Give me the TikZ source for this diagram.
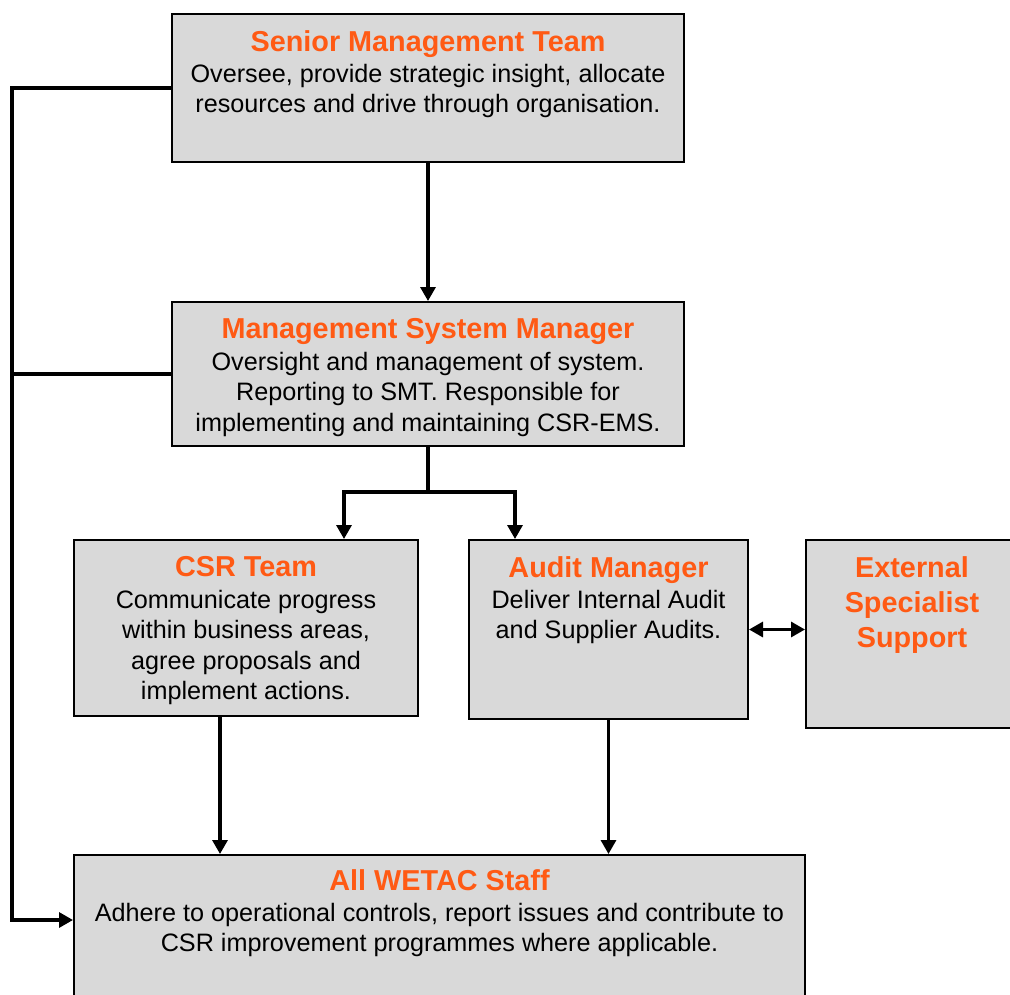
\documentclass[tikz,border=0pt]{standalone}
\usepackage{fontspec}
\setmainfont{Liberation Sans}
\usetikzlibrary{arrows.meta,positioning}
\definecolor{boxgray}{RGB}{217,217,217}
\definecolor{headorange}{RGB}{255,90,20}

\begin{document}
\begin{tikzpicture}[x=1pt, y=-1pt,
	box/.style={shape=rectangle, draw, line width=2pt, fill=boxgray, inner sep=0pt},
	head/.style={anchor=north, align=center, inner sep=0pt, text=headorange, font=\fontsize{28.8}{35}\selectfont\bfseries},
	body/.style={anchor=north, align=center, inner sep=0pt, font=\fontsize{25.2}{30.5}\selectfont},
	wire/.style={line width=3.2pt},
	arr/.style={wire, -{Triangle[length=14pt, width=15pt]}}]
	\useasboundingbox (0,0) rectangle (1010,994);
	% Boxes:
	\node[box, minimum width=512pt, minimum height=148pt] (smt) at (428, 88){};
	\node[box, minimum width=512pt, minimum height=144pt] (msm) at (428, 374){};
	\node[box, minimum width=344pt, minimum height=176pt] (csr) at (246, 628){};
	\node[box, minimum width=279pt, minimum height=179pt] (audit) at (608.5, 629.5){};
	\node[box, minimum width=212pt, minimum height=188pt] (ext) at (912, 634){};
	\node[box, minimum width=731pt, minimum height=155pt] (staff) at (439.5, 932.5){};
	% Texts:
	\node[head, below=17pt of smt.north] (smt-head){Senior Management Team};
	\node[body, below=51pt of smt.north] (smt-body){Oversee, provide strategic insight, allocate\\resources and drive through organisation.};
	\node[head, below=17pt of msm.north] (msm-head){Management System Manager};
	\node[body, below=51pt of msm.north] (msm-body){Oversight and management of system.\\Reporting to SMT. Responsible for\\implementing and maintaining CSR-EMS.};
	\node[head, below=17pt of csr.north] (csr-head){CSR Team};
	\node[body, below=51pt of csr.north] (csr-body){Communicate progress\\within business areas,\\agree proposals and\\implement actions.};
	\node[head, below=17pt of audit.north] (audit-head){Audit Manager};
	\node[body, below=51pt of audit.north] (audit-body){Deliver Internal Audit\\and Supplier Audits.};
	\node[head, below=17pt of ext.north] (ext-head){External\\Specialist\\Support};
	\node[head, below=15pt of staff.north] (staff-head){All WETAC Staff};
	\node[body, below=49pt of staff.north] (staff-body){Adhere to operational controls, report issues and contribute to\\CSR improvement programmes where applicable.};
	% Connectors:
	\coordinate (turn) at (12, 920);
	\coordinate (fork) at (428, 492);
	\draw[arr] (smt.west) -| (turn) -- (turn -| staff.west);
	\draw[wire] (msm.west) -- (msm.west -| turn);
	\draw[arr] (smt) -- (msm);
	\draw[wire] (msm.south) -- (fork);
	\draw[arr] (fork) -| ([xshift=98pt]csr.north);
	\draw[arr] (fork) -| ([xshift=-93.5pt]audit.north);
	\draw[arr] ([xshift=-26pt]csr.south) -- ([xshift=-26pt]csr.south |- staff.north);
	\draw[arr] (audit.south) -- (audit.south |- staff.north);
	\draw[arr, {Triangle[length=14pt, width=15pt]}-{Triangle[length=14pt, width=15pt]}] (audit.east) -- (audit.east -| ext.west);
\end{tikzpicture}
\end{document}
